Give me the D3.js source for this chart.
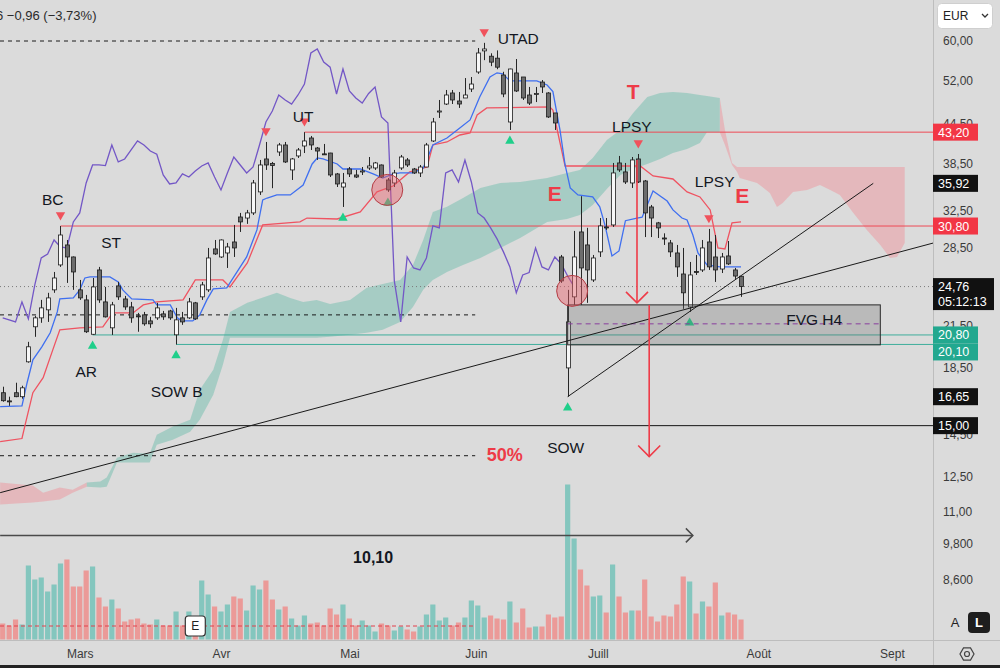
<!DOCTYPE html>
<html>
<head>
<meta charset="utf-8">
<script src="https://cdn.jsdelivr.net/npm/d3@7.9.0/dist/d3.min.js"></script>
<style>
  html, body { margin: 0; padding: 0; background: #dbdbdb; }
  svg { display: block; font-family: "Liberation Sans", Arial, sans-serif; }
</style>
</head>
<body>
<svg id="chart" width="1000" height="668"></svg>
<script>
// daily candles (EUR)
const opens = [16.89,16.40,16.89,16.65,18.88,21.42,22.12,22.77,24.47,26.77,
  28.77,27.55,24.47,23.60,20.85,26.29,23.43,21.34,24.82,23.68,
  23.01,22.28,22.36,21.88,22.12,22.44,22.68,20.81,22.12,22.12,
  23.35,23.86,24.47,28.36,27.55,27.95,29.08,31.82,31.70,32.29,
  34.83,39.22,38.60,40.22,41.25,37.70,39.65,41.10,42.30,40.80,
  39.95,40.07,37.16,35.45,37.83,37.02,37.50,37.97,37.97,38.38,
  36.36,35.97,37.97,39.08,37.83,37.29,38.10,41.85,46.45,47.81,
  49.75,48.33,48.86,50.47,53.66,57.90,56.80,56.40,53.08,44.81,
  53.47,52.70,49.39,49.50,51.75,49.75,46.29,27.55,18.47,23.86,
  30.15,28.77,25.36,28.06,30.70,30.92,38.66,37.43,35.97,39.22,
  36.23,32.99,31.15,29.50,28.98,27.95,25.91,23.01,26.15,26.29,
  29.08,27.55,26.38,27.65,26.29,25.70];
const highs = [17.26,16.65,17.51,17.32,20.29,22.28,23.60,24.21,26.10,30.80,
  29.29,27.60,25.36,24.03,25.54,26.58,24.73,23.43,25.18,23.94,
  23.43,22.52,22.60,22.20,23.35,22.68,22.77,22.93,22.60,23.77,
  23.43,25.18,28.46,29.29,29.35,28.98,30.92,32.29,32.64,36.36,
  39.08,41.70,38.80,41.55,41.70,39.36,40.80,43.20,42.61,40.95,
  41.40,40.10,37.29,37.29,38.10,37.70,38.10,39.50,38.80,38.45,
  36.62,37.70,39.79,39.36,37.97,38.38,41.55,45.47,48.51,50.29,
  50.29,49.93,52.50,52.70,58.50,59.60,57.40,58.00,53.70,54.30,
  56.23,52.70,50.84,50.84,52.13,49.90,46.30,27.75,24.47,30.26,
  34.30,30.60,27.75,31.70,31.70,38.66,39.65,38.66,39.50,39.93,
  36.36,33.23,31.26,30.00,29.29,28.77,28.46,27.06,27.75,29.29,
  30.48,29.82,27.95,29.18,26.48,25.72];
const lows = [16.35,16.11,16.62,16.53,18.82,20.66,21.73,21.80,24.21,26.58,
  25.09,24.47,23.60,20.95,20.80,23.35,22.15,20.80,23.60,22.77,
  21.73,21.04,21.50,21.34,21.96,21.96,21.96,20.10,21.57,22.04,
  21.96,23.60,24.29,27.75,27.45,26.48,27.55,30.15,31.04,32.05,
  34.45,37.70,35.30,39.65,38.66,36.36,39.36,40.07,40.51,39.08,
  39.79,36.75,35.45,32.99,36.75,36.62,37.02,37.70,37.70,36.62,
  34.83,35.45,37.70,38.10,37.16,36.75,38.10,41.70,45.47,47.64,
  47.81,47.14,48.86,49.93,53.30,56.00,54.80,54.20,49.00,43.54,
  49.93,48.51,47.64,48.15,49.75,45.47,43.54,25.09,16.65,23.18,
  23.18,23.35,25.18,27.55,30.37,30.70,37.43,35.84,35.33,35.97,
  29.60,29.60,29.50,28.77,27.55,25.64,22.85,22.60,25.82,26.10,
  26.29,25.18,26.00,26.77,25.45,23.86];
const closes = [16.41,16.35,16.65,17.19,19.93,22.12,22.93,23.77,25.54,29.82,
  27.55,26.10,23.77,21.04,24.73,23.60,22.20,23.18,23.86,23.01,
  22.12,22.24,21.65,21.65,22.93,22.20,22.12,21.96,21.80,23.43,
  22.04,24.91,27.45,27.85,29.29,28.56,28.46,31.26,32.29,35.97,
  38.38,38.38,38.30,41.25,38.80,39.22,40.51,41.85,41.25,40.36,
  39.90,37.02,35.84,35.97,37.16,36.75,37.56,38.24,38.66,36.75,
  35.08,37.29,39.50,38.38,37.29,38.10,41.25,44.81,46.62,49.39,
  48.51,47.81,49.39,51.38,57.46,58.30,55.60,54.60,49.57,54.24,
  50.11,48.86,47.97,49.66,50.84,45.63,44.65,25.27,21.80,27.55,
  26.48,26.29,27.45,30.81,30.60,37.29,37.70,36.10,39.08,36.10,
  32.29,31.70,30.59,29.40,28.06,26.58,24.21,25.82,26.05,28.46,
  26.58,26.29,27.55,26.87,25.72,24.76];
// volume, relative units
const volumes = [160,140,200,150,740,600,620,480,550,760,
  800,530,530,690,730,420,330,400,310,180,
  200,210,160,150,200,140,140,280,140,280,
  90,590,450,330,280,350,430,410,290,540,
  500,590,400,300,330,210,140,240,160,170,
  140,310,250,350,210,140,190,140,80,160,
  140,90,130,100,80,130,250,350,190,220,
  140,170,220,390,340,220,240,210,200,380,
  170,310,120,130,130,250,220,230,1550,1010,
  700,540,430,440,270,750,430,270,290,290,
  600,230,180,240,230,350,630,580,260,380,
  330,570,240,270,250,200];
const volAvg = 135;

// ichimoku lines: [bar index, price]
const tenkan = [[-0.4,16.06],[3.0,16.11],[3.8,17.51],[4.7,19.02],[6.1,19.93],[7.4,20.96],[8.5,22.60],[8.9,23.68],
  [11.0,23.77],[12.0,24.47],[12.8,25.54],[13.6,25.64],[16.7,25.64],[18.0,25.18],[18.7,24.47],[20.1,23.68],
  [23.4,23.60],[24.0,23.18],[26.1,23.18],[27.2,22.12],[27.9,21.88],[29.6,21.88],[30.7,22.36],[31.8,23.60],
  [32.8,24.56],[34.9,24.65],[36.5,26.10],[38.0,27.55],[39.0,29.29],[39.6,30.37],[40.5,33.83],[41.2,34.07],
  [42.7,34.45],[44.8,34.45],[46.8,35.71],[48.2,38.52],[49.0,39.36],[49.9,39.22],[52.1,38.52],[53.0,37.83],
  [55.7,37.83],[57.7,37.16],[59.2,36.62],[60.8,37.16],[61.9,37.29],[63.9,37.29],[65.5,37.97],[67.0,41.25],
  [69.2,42.30],[70.8,43.54],[72.8,45.14],[74.3,49.04],[75.9,52.70],[77.0,53.50],[77.9,53.30],[79.0,51.95],
  [83.2,51.95],[84.8,51.20],[85.7,50.00],[86.8,43.54],[87.6,38.38],[88.4,35.33],[89.6,34.45],[91.9,34.20],
  [93.0,33.00],[93.8,30.92],[94.9,27.65],[96.0,28.15],[97.0,31.40],[98.8,31.70],[99.6,31.80],[101.3,34.95],
  [103.5,33.70],[104.4,32.64],[105.8,31.70],[106.6,31.48],[107.5,29.82],[108.3,27.95],[109.7,26.77],
  [111.7,26.58],[115.0,26.58]];
const kijun = [[-0.4,14.16],[3.0,14.32],[3.5,15.05],[4.7,16.89],[6.3,17.83],[7.8,19.71],[8.9,21.19],[12.0,21.34],
  [15.6,21.42],[16.7,22.20],[17.2,22.52],[20.3,22.52],[21.9,23.18],[24.0,23.43],[28.1,23.60],[30.0,25.36],
  [34.3,25.36],[35.4,24.73],[38.1,26.96],[40.5,30.92],[46.3,31.26],[47.4,31.70],[52.1,31.59],[55.7,32.40],
  [58.3,34.83],[60.8,35.58],[63.4,37.43],[66.1,38.10],[67.0,41.25],[69.2,41.70],[71.2,42.76],[72.8,43.07],
  [73.9,45.96],[75.4,47.14],[85.2,47.31],[85.7,46.79],[87.6,38.24],[99.3,38.24],[101.3,36.89],[104.4,36.49],
  [106.6,34.83],[108.6,34.20],[110.2,32.64],[111.4,28.46],[112.5,28.36],[113.6,31.15],[115.0,31.26]];
const chikouShift = 26;

// cloud: [bar index, upper price, lower price]
const kumoPinkLeft = [[-0.4,12.22,11.29],[4.7,12.09,11.37],[6.3,11.78,11.41],[8.9,12.00,11.49],
  [10.9,11.91,11.78],[13.1,12.22,12.04]];
const kumoTeal = [[13.1,12.22,12.04],[15.2,12.26,12.00],[16.2,12.44,12.04],[17.8,13.36,13.13],[20.3,13.60,13.13],
  [22.9,13.55,13.13],[24.0,14.52,14.00],[26.5,14.96,14.26],[29.2,15.32,14.68],[30.7,17.07,15.32],
  [32.8,18.34,16.77],[34.3,20.44,18.68],[35.4,22.60,20.59],[38.1,23.35,20.59],[42.7,24.21,20.59],
  [44.8,23.77,20.59],[46.8,23.43,20.59],[48.9,23.60,20.59],[51.0,23.26,20.66],[54.1,23.60,20.81],
  [56.7,24.65,20.96],[59.2,25.00,21.19],[61.9,25.36,21.80],[63.9,26.77,23.01],[65.5,29.29,24.47],
  [67.0,32.40,25.36],[69.2,33.03,26.10],[71.7,34.07,26.77],[74.4,35.33,27.45],[77.5,35.97,28.46],
  [80.6,36.10,29.50],[84.8,36.62,31.26],[87.9,37.29,31.59],[89.9,37.70,32.05],[91.9,39.36,33.23],
  [94.1,42.00,35.20],[96.2,43.54,37.02],[98.2,46.28,37.83],[100.4,49.04,38.52],[102.4,49.75,39.22],
  [104.4,49.93,40.07],[106.6,49.75,40.65],[108.6,49.39,41.55],[109.7,49.22,43.20],[111.7,48.86,43.20]];
const kumoPinkRight = [[111.7,48.86,43.20],[112.5,43.54,41.25],[113.6,38.66,38.38],[114.4,38.10,37.43],
  [114.8,38.10,36.62],[117.5,38.10,35.97],[119.5,38.10,34.70],[120.6,38.10,32.99],[121.5,38.10,33.47],
  [123.1,38.10,34.83],[125.3,38.10,35.08],[127.3,38.10,35.71],[128.9,38.10,35.08],[130.4,38.10,34.45],
  [132.5,38.10,32.29],[134.6,38.10,30.37],[136.7,38.10,28.77],[138.2,38.10,27.45],[139.3,38.10,27.55],
  [140.5,38.10,28.98]];

// drawings
const resistLevels = [43.20, 30.80];
const resistStart = [47, 9];
const supportLevels = [20.80, 20.10];
const supportStart = [14, 27];
const dashedLevels = [60.0, 22.36, 13.46];
const dashedEnd = 73.6;
const floorLevel = 15.00;
const lastPrice = 24.76;
const countdown = '05:12:13';
const trendA = [[88, 16.65], [135.6, 35.92]];
const trendB = [[-0.4, 11.78], [145, 28.98]];
const redArrows = [[98.8, 39.08, 23.35], [100.7, 23.18, 13.42]];
const rangeArrow = [[-0.4, 10.10], [107.5, 10.10]];
const circleIdx = [59.9, 88.7];
const circlePrice = [35.08, 24.38];
const fvgIdx = [88, 136.7];
const fvgPrice = [23.18, 20.07];
const fvgMid = 21.65;
const topMarks = [9, 41, 47, 75, 99, 110];
const bottomMarks = [14, 27, 53, 60, 79, 88, 107];

const blackLabels = ['BC', 'ST', 'AR', 'SOW B', 'UT', 'UTAD', 'LPSY', 'LPSY', 'SOW', 'FVG H4'];
const blackLabelIdx = [7.8, 16.9, 13.0, 27.1, 46.8, 80.3, 98.0, 110.9, 87.7, 126.4];
const blackLabelPrice = [33.95, 29.08, 18.21, 16.95, 45.80, 60.65, 44.10, 36.23, 13.85, 21.96];
const redLabels = ['T', 'E', 'E', '50%'];
const redLabelIdx = [98.2, 86.0, 115.2, 78.2];
const redLabelPrice = [50.1, 34.70, 34.33, 13.51];
const rangeLabel = '10,10';
const rangeLabelAt = [57.7, 9.34];
const earningsIdx = 30;

// axes
const priceTicks = [60, 52, 44.5, 38.5, 32.5, 28.5, 21.5, 18.5, 14.5, 12.5, 11, 9.8, 8.6];
const monthLabels = ['Mars', 'Avr', 'Mai', 'Juin', 'Juill', 'Août', 'Sept'];
const monthIdx = [12, 34, 54, 73.7, 92.7, 117.7, 138.5];
const headerText = '6 \u22120,96 (\u22123,73%)';

const svg = d3.select('#chart');
const x = d3.scaleLinear().domain([0, 115]).range([2.7, 741]);
const y = d3.scaleLog().domain([8.6, 60]).range([580, 41]);
const yVol = d3.scaleLinear().domain([0, 1600]).range([639.5, 479.5]);
const frFmt = v => (v >= 10 ? v.toFixed(2) : v.toFixed(3)).replace('.', ',');

svg.append('rect').attr('width', 1000).attr('height', 668).attr('fill', '#dbdbdb');
svg.append('defs').append('clipPath').attr('id', 'plot')
  .append('rect').attr('width', 933).attr('height', 640);
const plot = svg.append('g').attr('clip-path', 'url(#plot)');

const bars = d3.range(closes.length);
const isUp = i => closes[i] >= opens[i];

// volume
plot.append('g').selectAll('rect').data(bars).join('rect')
  .attr('x', i => x(i) - 2.6).attr('width', 5.2)
  .attr('y', i => yVol(volumes[i]))
  .attr('height', i => yVol(0) - yVol(volumes[i]))
  .attr('fill', i => isUp(i) ? '#84c6be' : '#eb9a98');
plot.append('line')
  .attr('x1', 0).attr('x2', x(dashedEnd))
  .attr('y1', yVol(volAvg)).attr('y2', yVol(volAvg))
  .attr('stroke', '#e0404c').attr('stroke-dasharray', '4,3').attr('stroke-width', 1);

// cloud
const kumo = d3.area().x(d => x(d[0])).y0(d => y(d[2])).y1(d => y(d[1]));
plot.append('path').datum(kumoPinkLeft).attr('d', kumo).attr('fill', '#f08f96').attr('opacity', 0.45);
plot.append('path').datum(kumoPinkRight).attr('d', kumo).attr('fill', '#f08f96').attr('opacity', 0.45);
plot.append('path').datum(kumoTeal).attr('d', kumo).attr('fill', '#86c4b6').attr('opacity', 0.62);

// horizontal levels
const hline = (v, x0, x1, color, dash, w) => plot.append('line')
  .attr('x1', x0).attr('x2', x1).attr('y1', y(v)).attr('y2', y(v))
  .attr('stroke', color).attr('stroke-width', w || 1)
  .attr('stroke-dasharray', dash || null);
dashedLevels.forEach(v => hline(v, 0, x(dashedEnd), '#1a1a1a', '4,4'));
hline(floorLevel, 0, 933, '#151515');
hline(lastPrice, 0, 933, '#7a7a7a', '1,3');
resistLevels.forEach((v, k) => hline(v, x(resistStart[k]), 933, '#ee4a55'));
supportLevels.forEach((v, k) => hline(v, x(supportStart[k]), 933, '#3fae9c'));

// ichimoku lines
const line = d3.line().x(d => x(d[0])).y(d => y(d[1]));
const chikou = closes.slice(chikouShift).map((c, k) => [k, c]);
plot.append('path').datum(chikou).attr('d', line).attr('fill', 'none')
  .attr('stroke', '#7357c6').attr('stroke-width', 1.3);
plot.append('path').datum(kijun).attr('d', line).attr('fill', 'none')
  .attr('stroke', '#ef5361').attr('stroke-width', 1.3);
plot.append('path').datum(tenkan).attr('d', line).attr('fill', 'none')
  .attr('stroke', '#3f6ff0').attr('stroke-width', 1.3);

// candles
const candles = plot.append('g').selectAll('g').data(bars).join('g');
candles.append('line')
  .attr('x1', i => Math.round(x(i)) + 0.5).attr('x2', i => Math.round(x(i)) + 0.5)
  .attr('y1', i => y(highs[i])).attr('y2', i => y(lows[i]))
  .attr('stroke', '#262626').attr('stroke-width', 1);
candles.append('rect')
  .attr('x', i => Math.round(x(i)) - 1.5).attr('width', 4)
  .attr('y', i => y(Math.max(opens[i], closes[i])))
  .attr('height', i => Math.max(1, Math.abs(y(opens[i]) - y(closes[i]))))
  .attr('fill', i => isUp(i) ? '#f7f7f7' : '#6c6c6c')
  .attr('stroke', '#1c1c1c').attr('stroke-width', 0.8);

// triangle markers
const tri = d3.symbol().type(d3.symbolTriangle).size(38);
plot.append('g').selectAll('path').data(topMarks).join('path')
  .attr('d', tri)
  .attr('transform', i => `translate(${x(i)},${y(highs[i]) - 11}) rotate(180)`)
  .attr('fill', '#f0525c');
plot.append('g').selectAll('path').data(bottomMarks).join('path')
  .attr('d', tri)
  .attr('transform', i => `translate(${x(i)},${y(lows[i]) + 11})`)
  .attr('fill', '#1fcf8a');

// FVG box
plot.append('rect')
  .attr('x', x(fvgIdx[0])).attr('width', x(fvgIdx[1]) - x(fvgIdx[0]))
  .attr('y', y(fvgPrice[0])).attr('height', y(fvgPrice[1]) - y(fvgPrice[0]))
  .attr('fill', '#6e6e6e').attr('fill-opacity', 0.3)
  .attr('stroke', '#2a2a2a').attr('stroke-width', 1);
plot.append('line')
  .attr('x1', x(fvgIdx[0])).attr('x2', x(fvgIdx[1]))
  .attr('y1', y(fvgMid)).attr('y2', y(fvgMid))
  .attr('stroke', '#8a3f9e').attr('stroke-dasharray', '5,4');

// trend lines
[trendA, trendB].forEach(t => plot.append('path').datum(t).attr('d', line)
  .attr('fill', 'none').attr('stroke', '#1a1a1a').attr('stroke-width', 1));

// circles
plot.append('g').selectAll('circle').data(circleIdx).join('circle')
  .attr('cx', (d, k) => x(d)).attr('cy', (d, k) => y(circlePrice[k])).attr('r', 15.5)
  .attr('fill', '#e8606a').attr('fill-opacity', 0.45)
  .attr('stroke', '#b43c44').attr('stroke-width', 1);

// red arrows
redArrows.forEach(([i, p0, p1]) => {
  const ax = x(i), y0 = y(p0), y1 = y(p1);
  plot.append('line').attr('x1', ax).attr('x2', ax).attr('y1', y0).attr('y2', y1)
    .attr('stroke', '#ee3b48').attr('stroke-width', 1.6);
  plot.append('path').attr('d', `M${ax - 11},${y1 - 11}L${ax},${y1}L${ax + 11},${y1 - 11}`)
    .attr('fill', 'none').attr('stroke', '#ee3b48').attr('stroke-width', 1.6);
});

// range arrow
{
  const ra = rangeArrow.map(d => [x(d[0]), y(d[1])]);
  plot.append('line').attr('x1', ra[0][0]).attr('x2', ra[1][0]).attr('y1', ra[0][1]).attr('y2', ra[1][1])
    .attr('stroke', '#4a4a4a').attr('stroke-width', 1.5);
  plot.append('path').attr('d', `M${ra[1][0] - 7},${ra[1][1] - 7}L${ra[1][0]},${ra[1][1]}L${ra[1][0] - 7},${ra[1][1] + 7}`)
    .attr('fill', 'none').attr('stroke', '#4a4a4a').attr('stroke-width', 1.5);
}

// labels
plot.append('g').selectAll('text').data(blackLabels).join('text')
  .attr('x', (d, k) => x(blackLabelIdx[k])).attr('y', (d, k) => y(blackLabelPrice[k]))
  .attr('dy', '0.36em').attr('text-anchor', 'middle')
  .attr('font-size', 15.5).attr('fill', '#131722').text(d => d);
plot.append('g').selectAll('text').data(redLabels).join('text')
  .attr('x', (d, k) => x(redLabelIdx[k])).attr('y', (d, k) => y(redLabelPrice[k]))
  .attr('dy', '0.36em').attr('text-anchor', 'middle')
  .attr('font-size', (d, k) => d === '50%' ? 18 : 21).attr('font-weight', 'bold')
  .attr('fill', '#ee3b48').text(d => d);
plot.append('text')
  .attr('x', x(rangeLabelAt[0])).attr('y', y(rangeLabelAt[1])).attr('dy', '0.36em')
  .attr('text-anchor', 'middle').attr('font-size', 16).attr('font-weight', 'bold')
  .attr('fill', '#131722').text(rangeLabel);

// earnings marker
plot.append('rect').attr('x', x(earningsIdx) - 10).attr('y', 616).attr('width', 20).attr('height', 20)
  .attr('rx', 3).attr('fill', '#ffffff').attr('stroke', '#333').attr('stroke-width', 1.2);
plot.append('text').attr('x', x(earningsIdx)).attr('y', 626).attr('dy', '0.36em')
  .attr('text-anchor', 'middle').attr('font-size', 12).attr('fill', '#222').text('E');

// header
svg.append('text').attr('x', -4).attr('y', 20).attr('font-size', 13).attr('fill', '#2a2a2a').text(headerText);

// frame
svg.append('line').attr('x1', 933.5).attr('x2', 933.5).attr('y1', 0).attr('y2', 668)
  .attr('stroke', '#bdbdbd');
svg.append('line').attr('x1', 0).attr('x2', 1000).attr('y1', 640.5).attr('y2', 640.5)
  .attr('stroke', '#bdbdbd');
svg.append('rect').attr('x', 0).attr('y', 665).attr('width', 1000).attr('height', 3).attr('fill', '#222');

// time axis
const gx = svg.append('g').attr('transform', 'translate(0,640)')
  .call(d3.axisBottom(x).tickValues(monthIdx).tickFormat((d, k) => monthLabels[k]).tickSize(0).tickPadding(9));
gx.select('.domain').remove();
gx.attr('font-size', 12).attr('font-family', '"Liberation Sans", Arial, sans-serif');
gx.selectAll('text').attr('fill', '#3a3a3a');

// price axis
const gy = svg.append('g').attr('transform', 'translate(943,0)')
  .call(d3.axisRight(y).tickValues(priceTicks).tickFormat(frFmt).tickSize(0).tickPadding(0));
gy.select('.domain').remove();
gy.attr('font-size', 12).attr('font-family', '"Liberation Sans", Arial, sans-serif');
gy.selectAll('text').attr('fill', '#3a3a3a');

// price tags
const tags = [
  ...resistLevels.map(v => ({ v, fill: '#f23645' })),
  ...supportLevels.map(v => ({ v, fill: '#22a88f' })),
  { v: 35.92, fill: '#111' }, { v: 16.65, fill: '#111' }, { v: floorLevel, fill: '#111' },
  { v: lastPrice, fill: '#111', sub: countdown }
].sort((a, b) => y(a.v) - y(b.v));
let lastBottom = -1;
tags.forEach(t => {
  let top = Math.max(y(t.v) - 8.5, lastBottom);
  const h = t.sub ? 32 : 17;
  const w = t.sub ? 61 : 45;
  lastBottom = top + h;
  svg.append('rect').attr('x', 933).attr('y', top).attr('width', w).attr('height', h).attr('fill', t.fill);
  svg.append('text').attr('x', 938).attr('y', top + 8.5).attr('dy', '0.36em')
    .attr('font-size', 12.5).attr('fill', '#fff').text(frFmt(t.v));
  if (t.sub) {
    svg.append('text').attr('x', 938).attr('y', top + 23.5).attr('dy', '0.36em')
      .attr('font-size', 12.5).attr('fill', '#fff').text(t.sub);
  }
});

// currency box and buttons
svg.append('rect').attr('x', 937.5).attr('y', 3.5).attr('width', 55).attr('height', 25).attr('rx', 4)
  .attr('fill', '#fff').attr('stroke', '#cfcfcf');
svg.append('text').attr('x', 943).attr('y', 20).attr('font-size', 12).attr('fill', '#222').text('EUR');
svg.append('path').attr('d', 'M982,14L985,17L988,14').attr('fill', 'none').attr('stroke', '#333').attr('stroke-width', 1.3);
svg.append('text').attr('x', 955).attr('y', 627).attr('text-anchor', 'middle').attr('font-size', 13).attr('fill', '#222').text('A');
svg.append('rect').attr('x', 968).attr('y', 612).attr('width', 22).attr('height', 21).attr('rx', 4).attr('fill', '#1e1e1e');
svg.append('text').attr('x', 979).attr('y', 627).attr('text-anchor', 'middle').attr('font-size', 13)
  .attr('font-weight', 'bold').attr('fill', '#fff').text('L');
const hex = d3.range(6).map(k => [967 + 7 * Math.cos(Math.PI / 3 * k), 654 + 7 * Math.sin(Math.PI / 3 * k)]);
svg.append('path').attr('d', 'M' + hex.join('L') + 'Z').attr('fill', 'none').attr('stroke', '#444').attr('stroke-width', 1.2);
svg.append('circle').attr('cx', 967).attr('cy', 654).attr('r', 2.5).attr('fill', 'none').attr('stroke', '#444').attr('stroke-width', 1.2);
</script>
</body>
</html>
